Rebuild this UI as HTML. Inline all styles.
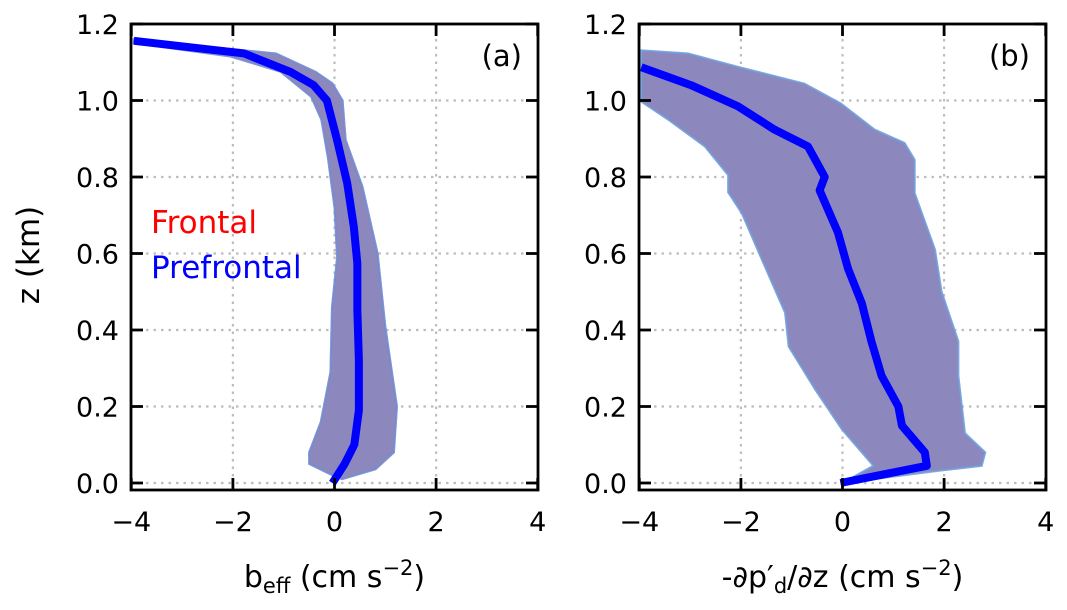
<!DOCTYPE html>
<html><head><meta charset="utf-8"><style>
body{margin:0;background:#fff;}
svg text{font-family:"DejaVu Sans","Liberation Sans",sans-serif;}
</style></head><body>
<svg id="fig" width="1067" height="605" viewBox="0 0 1067 605" xmlns="http://www.w3.org/2000/svg"></svg>
<script>
// ---- data ----
const xTicks=[-4,-2,0,2,4];
const yTicks=[0.0,0.2,0.4,0.6,0.8,1.0,1.2];
// panel a: mean buoyancy
const aMeanZ=[1.156,1.123,1.075,1.04,1.0,0.897,0.784,0.67,0.574,0.452,0.32,0.19,0.10,0.05,0.0];
const aMeanX=[-3.95,-1.78,-0.87,-0.41,-0.15,0.05,0.25,0.38,0.45,0.45,0.48,0.48,0.39,0.2,-0.04];
const aLowZ=[1.15,1.115,1.075,1.01,0.95,0.85,0.72,0.59,0.46,0.29,0.16,0.08,0.05,0.02];
const aLowX=[-3.95,-2.05,-1.06,-0.46,-0.26,-0.13,0.0,0.05,-0.05,-0.08,-0.27,-0.5,-0.5,-0.04];
const aHighZ=[1.16,1.123,1.075,1.045,1.0,0.897,0.775,0.6,0.41,0.2,0.08,0.036,0.01];
const aHighX=[-3.95,-1.15,-0.37,-0.04,0.16,0.22,0.55,0.85,1.0,1.23,1.17,0.81,0.15];
// panel b: pressure gradient
const bMeanZ=[1.087,1.04,0.985,0.924,0.88,0.80,0.765,0.655,0.56,0.47,0.37,0.28,0.2,0.15,0.08,0.045,0.0];
const bMeanX=[-3.96,-2.98,-2.06,-1.34,-0.68,-0.35,-0.45,-0.09,0.11,0.38,0.57,0.77,1.1,1.17,1.62,1.66,-0.04];
const bLowZ=[0.997,0.95,0.88,0.805,0.76,0.705,0.585,0.445,0.357,0.245,0.14,0.045,0.0];
const bLowX=[-3.96,-3.43,-2.71,-2.25,-2.25,-1.98,-1.59,-1.13,-1.06,-0.54,-0.01,0.61,0.0];
const bHighZ=[1.131,1.123,1.088,1.044,0.992,0.924,0.889,0.845,0.758,0.61,0.5,0.37,0.28,0.2,0.13,0.08,0.045,0.032,0.0];
const bHighX=[-3.96,-3.04,-2.06,-0.75,-0.03,0.63,1.22,1.42,1.42,1.82,1.95,2.28,2.28,2.35,2.41,2.81,2.74,1.89,0.0];

const NS="http://www.w3.org/2000/svg";
const svg=document.getElementById('fig');
function mk(tag,attrs,parent){const e=document.createElementNS(NS,tag);for(const k in attrs)e.setAttribute(k,attrs[k]);(parent||svg).appendChild(e);return e;}

const Y0=483, YS=382.5, XS=50.8;
const yOf=z=>Y0-z*YS;
const AX_TOP=yOf(1.2), AX_BOT=490;

function panel(left,key,lab,xlabelHtml,series){
  const right=left+407, x0=left+203.5;
  const xOf=v=>x0+v*XS;
  const g=mk('g',{});
  
  
  xTicks.slice(1,-1).forEach(t=>{const l=mk('line',{x1:xOf(t),x2:xOf(t),y1:AX_TOP,y2:AX_BOT,stroke:'#bdbdbd','stroke-width':2.2,'stroke-dasharray':'2.5,5'},g);
    
    });
  yTicks.slice(0,-1).forEach(t=>{const l=mk('line',{x1:left,x2:right,y1:yOf(t),y2:yOf(t),stroke:'#bdbdbd','stroke-width':2.2,'stroke-dasharray':'2.5,5'},g);
    
    });
  series.forEach(s=>{
    let pts=[];
    for(let i=0;i<s.hx.length;i++)pts.push(xOf(s.hx[i])+','+yOf(s.hz[i]));
    for(let i=s.lx.length-1;i>=0;i--)pts.push(xOf(s.lx[i])+','+yOf(s.lz[i]));
    const p=mk('polygon',{points:pts.join(' '),fill:s.fill,stroke:s.edge,'stroke-width':2},g);
    
    
  });
  series.forEach(s=>{
    const pts=s.mx.map((v,i)=>xOf(v)+','+yOf(s.mz[i])).join(' ');
    const p=mk('polyline',{points:pts,fill:'none',stroke:s.line,'stroke-width':s.w,'stroke-linejoin':'round'},g);
    
    
  });
  const f=mk('rect',{x:left,y:AX_TOP,width:407,height:AX_BOT-AX_TOP,fill:'none',stroke:'#000','stroke-width':2.8},g);
  
  
  xTicks.forEach(t=>{
    mk('line',{x1:xOf(t),x2:xOf(t),y1:AX_BOT,y2:AX_BOT-12,stroke:'#000','stroke-width':2.8},g);
    mk('line',{x1:xOf(t),x2:xOf(t),y1:AX_TOP,y2:AX_TOP+12,stroke:'#000','stroke-width':2.8},g);
    const tx=mk('text',{x:xOf(t),y:531,'font-size':27,'text-anchor':'middle'},g);
    tx.textContent=(t<0?'\u2212':'')+Math.abs(t);
    
    
  });
  yTicks.forEach(t=>{
    mk('line',{x1:left,x2:left+12,y1:yOf(t),y2:yOf(t),stroke:'#000','stroke-width':2.8},g);
    mk('line',{x1:right,x2:right-12,y1:yOf(t),y2:yOf(t),stroke:'#000','stroke-width':2.8},g);
    const tx=mk('text',{x:left-12,y:yOf(t)+10,'font-size':27,'text-anchor':'end'},g);
    tx.textContent=t.toFixed(1);
    
    
  });
  const pl=mk('text',{x:right-16,y:66,'font-size':29,'text-anchor':'end'},g);
  pl.textContent=lab;
  
  
  const xl=mk('text',{x:x0,y:587,'font-size':30,'text-anchor':'middle'},g);
  xl.innerHTML=xlabelHtml;
  
  
}

panel(131,'a','(a)','b<tspan font-size="21" dy="6">eff</tspan><tspan dy="-6"> (cm s</tspan><tspan font-size="21" dy="-12">\u22122</tspan><tspan dy="12">)</tspan>',[
  {name:'frontal',mx:aMeanX,mz:aMeanZ,lx:aLowX,lz:aLowZ,hx:aHighX,hz:aHighZ,fill:'#8c87bc',edge:'rgba(255,80,80,0.5)',line:'#ff0000',w:4},
  {name:'prefrontal',mx:aMeanX,mz:aMeanZ,lx:aLowX,lz:aLowZ,hx:aHighX,hz:aHighZ,fill:'none',edge:'rgba(90,150,230,0.8)',line:'#0000ff',w:8}
]);
panel(639,'b','(b)','-\u2202p\u2032<tspan font-size="21" dy="6">d</tspan><tspan dy="-6">/\u2202z (cm s</tspan><tspan font-size="21" dy="-12">\u22122</tspan><tspan dy="12">)</tspan>',[
  {name:'frontal',mx:bMeanX,mz:bMeanZ,lx:bLowX,lz:bLowZ,hx:bHighX,hz:bHighZ,fill:'#8c87bc',edge:'rgba(255,80,80,0.5)',line:'#ff0000',w:4},
  {name:'prefrontal',mx:bMeanX,mz:bMeanZ,lx:bLowX,lz:bLowZ,hx:bHighX,hz:bHighZ,fill:'none',edge:'rgba(90,170,240,0.8)',line:'#0000ff',w:8}
]);

const yl=mk('text',{x:0,y:0,'font-size':31,'text-anchor':'middle',transform:'translate(39,255) rotate(-90)'});
yl.textContent='z (km)';


const l1=mk('text',{x:151,y:233,'font-size':31,fill:'#ff0000'});
l1.textContent='Frontal';


const l2=mk('text',{x:151,y:278,'font-size':31,fill:'#0000ff'});
l2.textContent='Prefrontal';


</script>
</body></html>
